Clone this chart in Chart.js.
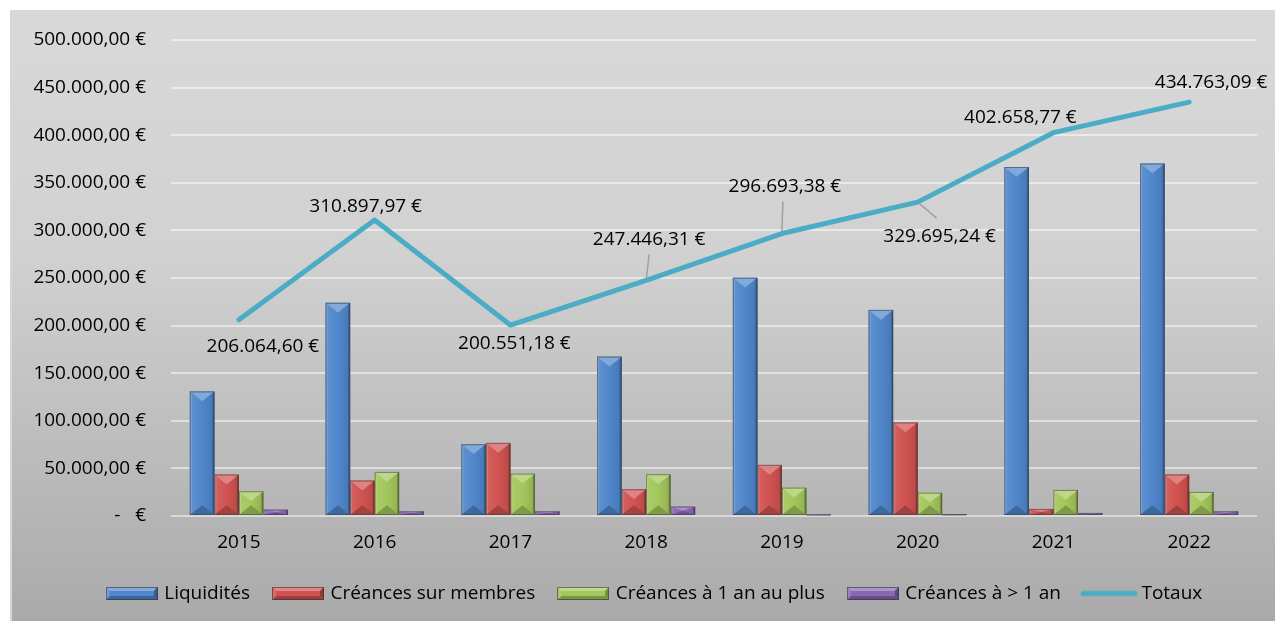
<!DOCTYPE html>
<html><head><meta charset="utf-8">
<script src="https://cdn.jsdelivr.net/npm/chart.js@4"></script>
<style>html,body{margin:0;padding:0;background:#fff;} #wrap{width:1275px;height:621px;position:relative;}</style>
</head><body><div id="wrap"><canvas id="c" width="1275" height="621"></canvas></div>
<script>
// ---- data ----
const categories = ['2015', '2016', '2017', '2018', '2019', '2020', '2021', '2022'];
const seriesNames = ['Liquidités', 'Créances sur membres', 'Créances à 1 an au plus', 'Créances à > 1 an', 'Totaux'];
const liquidites = [130800, 223900, 75400, 167400, 250200, 216500, 366600, 370200];
const creancesMembres = [43500, 37200, 76800, 28100, 53700, 98200, 7400, 43500];
const creancesUnAn = [26000, 46300, 44500, 43900, 29800, 24500, 27400, 25300];
const creancesPlusUnAn = [6600, 4900, 4900, 9800, 1800, 2000, 3200, 4900];
const totaux = [206064.60, 310897.97, 200551.18, 247446.31, 296693.38, 329695.24, 402658.77, 434763.09];
const yTickValues = [0, 50000, 100000, 150000, 200000, 250000, 300000, 350000, 400000, 450000, 500000];

// ---- styling (kept apart from data) ----
const barColors = ['#5087cc', '#d05350', '#a4c75c', '#8a68b4'];
const lineColor = '#4bacc6';
const labelOffsets = [[24, 27], [-9, -13], [4, 19], [3, -41], [3, -47], [22, 34], [-33, -15], [22, -20]];
const leaderAnchors = [null, null, null, [0, 15], [-2, 15], [-3, -18], null, null];

function fmtEUR(v) {
  if (v === 0) return '-   €';
  const parts = v.toFixed(2).split('.');
  return parts[0].replace(/\B(?=(\d{3})+(?!\d))/g, '.') + ',' + parts[1] + ' €';
}
function shade(hex, amt) {
  const n = parseInt(hex.slice(1), 16);
  let r = n >> 16, g = (n >> 8) & 255, b = n & 255;
  if (amt >= 0) { r += (255 - r) * amt; g += (255 - g) * amt; b += (255 - b) * amt; }
  else { r *= 1 + amt; g *= 1 + amt; b *= 1 + amt; }
  return 'rgb(' + Math.round(r) + ',' + Math.round(g) + ',' + Math.round(b) + ')';
}
function poly(ctx, pts, fill) {
  ctx.beginPath(); ctx.moveTo(pts[0][0], pts[0][1]);
  for (let i = 1; i < pts.length; i++) ctx.lineTo(pts[i][0], pts[i][1]);
  ctx.closePath(); ctx.fillStyle = fill; ctx.fill();
}
function drawBevelBar(ctx, x0, top, x1, bot, color) {
  const w = x1 - x0, h = bot - top;
  if (h <= 0.5) return;
  const cx = (x0 + x1) / 2;
  const g = ctx.createLinearGradient(x0, 0, x1, 0);
  g.addColorStop(0, shade(color, 0.08));
  g.addColorStop(0.5, color);
  g.addColorStop(1, shade(color, -0.12));
  ctx.fillStyle = g; ctx.fillRect(x0, top, w, h);
  const d = Math.min(w * 0.4, h / 2);
  const s = Math.min(2, h / 2);
  poly(ctx, [[x0, top], [x1, top], [cx, top + d]], shade(color, 0.28));
  poly(ctx, [[x0, bot], [x1, bot], [cx, bot - d]], shade(color, -0.22));
  poly(ctx, [[x0, top], [x0 + s, top + s], [x0 + s, bot - s], [x0, bot]], shade(color, 0.25));
  poly(ctx, [[x1, top], [x1 - s, top + s], [x1 - s, bot - s], [x1, bot]], shade(color, -0.3));
  ctx.strokeStyle = 'rgba(60,60,60,0.55)'; ctx.lineWidth = 1;
  ctx.strokeRect(x0 + 0.5, top + 0.5, w - 1, Math.max(h - 1, 0.5));
}
function makeSwatch(color) {
  const c = document.createElement('canvas'); c.width = 52; c.height = 13;
  const ctx = c.getContext('2d');
  const w = 52, h = 13, d = 4;
  ctx.fillStyle = color; ctx.fillRect(0, 0, w, h);
  poly(ctx, [[0, 0], [w, 0], [w - d, d], [d, d]], shade(color, 0.3));
  poly(ctx, [[0, h], [w, h], [w - d, h - d], [d, h - d]], shade(color, -0.25));
  poly(ctx, [[0, 0], [d, d], [d, h - d], [0, h]], shade(color, 0.15));
  poly(ctx, [[w, 0], [w - d, d], [w - d, h - d], [w, h]], shade(color, -0.3));
  ctx.strokeStyle = 'rgba(50,50,50,0.6)'; ctx.lineWidth = 1; ctx.strokeRect(0.5, 0.5, w - 1, h - 1);
  return c;
}
function makeLineSwatch(color) {
  const c = document.createElement('canvas'); c.width = 58; c.height = 8;
  const ctx = c.getContext('2d');
  ctx.strokeStyle = color; ctx.lineWidth = 5; ctx.lineCap = 'round';
  ctx.beginPath(); ctx.moveTo(3, 4); ctx.lineTo(55, 4); ctx.stroke();
  return c;
}
const swatches = barColors.map(makeSwatch).concat([makeLineSwatch(lineColor)]);

const bgPlugin = {
  id: 'bg',
  beforeDraw(chart) {
    const ctx = chart.ctx;
    ctx.save();
    ctx.fillStyle = '#ffffff'; ctx.fillRect(0, 0, chart.width, chart.height);
    const g = ctx.createLinearGradient(0, 10, 0, chart.height);
    g.addColorStop(0, '#d9d9d9');
    g.addColorStop(0.4, '#d1d1d1');
    g.addColorStop(1, '#aaaaaa');
    ctx.fillStyle = g; ctx.fillRect(10, 10, chart.width - 10, chart.height - 10);
    ctx.strokeStyle = '#d6d6d6'; ctx.lineWidth = 2;
    ctx.beginPath(); ctx.moveTo(11, 10); ctx.lineTo(11, chart.height); ctx.stroke();
    ctx.restore();
  },
  afterLayout(chart) {
    // Excel places the legend row a little right of centre
    if (chart.legend) { chart.legend.left += 22; chart.legend.right += 22; }
  }
};
const bevelPlugin = {
  id: 'bevel',
  afterDatasetDraw(chart, args) {
    const ds = chart.data.datasets[args.index];
    if (ds.type === 'line') return;
    const ctx = chart.ctx;
    ctx.save();
    args.meta.data.forEach(el => {
      const p = el.getProps(['x', 'y', 'base', 'width'], true);
      const top = Math.min(p.y, p.base), bot = Math.max(p.y, p.base);
      drawBevelBar(ctx, p.x - p.width / 2, top, p.x + p.width / 2, bot, barColors[args.index]);
    });
    ctx.restore();
  }
};
const labelPlugin = {
  id: 'totLabels',
  afterDatasetsDraw(chart) {
    const idx = chart.data.datasets.findIndex(d => d.type === 'line');
    const meta = chart.getDatasetMeta(idx);
    const ctx = chart.ctx;
    ctx.save();
    ctx.font = '19px "Open Sans"';
    ctx.fillStyle = '#000';
    ctx.textAlign = 'center'; ctx.textBaseline = 'middle';
    meta.data.forEach((pt, i) => {
      const lx = pt.x + labelOffsets[i][0], ly = pt.y + labelOffsets[i][1];
      const la = leaderAnchors[i];
      if (la) {
        ctx.strokeStyle = '#a0a0a0'; ctx.lineWidth = 1.5;
        const ax = lx + la[0], ay = ly + la[1];
        const dx = ax - pt.x, dy = ay - pt.y, len = Math.hypot(dx, dy);
        ctx.beginPath(); ctx.moveTo(ax, ay); ctx.lineTo(pt.x + dx / len * 2, pt.y + dy / len * 2); ctx.stroke();
      }
      ctx.fillText(fmtEUR(chart.data.datasets[idx].data[i]), lx, ly);
    });
    ctx.restore();
  }
};

Chart.defaults.font.family = '"Open Sans", sans-serif';
Chart.defaults.font.size = 19;
Chart.defaults.color = '#000';

const barSeries = [liquidites, creancesMembres, creancesUnAn, creancesPlusUnAn];
const datasets = barSeries.map((arr, i) => ({
  type: 'bar', label: seriesNames[i], data: arr,
  backgroundColor: barColors[i], borderWidth: 0, order: 1,
  categoryPercentage: 0.722, barPercentage: 1.0
}));
datasets.push({
  type: 'line', label: seriesNames[4], data: totaux,
  borderColor: lineColor, backgroundColor: lineColor, borderWidth: 5,
  pointRadius: 0, tension: 0, borderCapStyle: 'round', borderJoinStyle: 'round', order: -1
});

new Chart(document.getElementById('c'), {
  data: { labels: categories, datasets },
  plugins: [bgPlugin, bevelPlugin, labelPlugin],
  options: {
    responsive: false, animation: false, devicePixelRatio: 1,
    layout: { padding: { left: 10, right: 18, top: 40, bottom: 8 } },
    plugins: {
      tooltip: { enabled: false },
      legend: {
        position: 'bottom',
        labels: {
          usePointStyle: true, pointStyleWidth: 46, boxHeight: 13, padding: 25,
          font: { size: 19 },
          generateLabels: (chart) => chart.data.datasets.map((ds, i) => ({
            text: ds.label, pointStyle: swatches[i], datasetIndex: i, hidden: false,
            lineWidth: 0, strokeStyle: 'transparent', fillStyle: 'transparent', fontColor: '#000'
          }))
        }
      }
    },
    scales: {
      x: {
        type: 'category',
        grid: { display: false, drawTicks: false }, border: { display: false },
        ticks: { padding: 15, font: { size: 19 } },
        afterFit: (s) => { s.height = 43; }
      },
      y: {
        min: 0, max: 500000,
        afterBuildTicks: (axis) => { axis.ticks = yTickValues.map(v => ({ value: v })); },
        grid: { color: 'rgba(255,255,255,0.5)', lineWidth: 2, drawTicks: false },
        border: { display: false },
        ticks: { padding: 25, font: { size: 19 }, callback: (v) => fmtEUR(v) },
        afterFit: (s) => { s.width = 161; }
      }
    }
  }
});
</script></body></html>
